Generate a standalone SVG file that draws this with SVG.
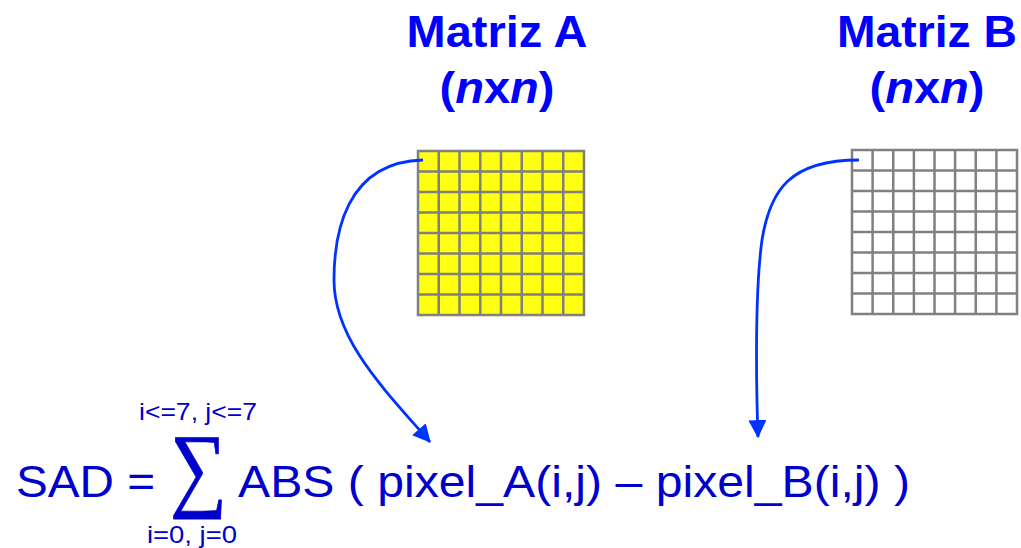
<svg xmlns="http://www.w3.org/2000/svg" width="1021" height="548" viewBox="0 0 1021 548">
<style>
.title{font-family:"Liberation Sans",Arial,sans-serif;font-weight:bold;font-size:44px;fill:#0000ff;text-anchor:middle}
.f{font-family:"Liberation Sans",Arial,sans-serif;font-size:44px;fill:#0000cc}
.lim{font-family:"Liberation Sans",Arial,sans-serif;font-size:24px;fill:#0000cc}
.sig{font-family:"Liberation Serif","Times New Roman",serif;fill:#0000cc}
.grid{stroke:#808080;stroke-width:2.5;fill:none}
.conn{stroke:#0033ff;stroke-width:2.8;fill:none}
</style>
<defs>
<marker id="ah" markerUnits="userSpaceOnUse" markerWidth="18" markerHeight="18" viewBox="0 0 16 16" refX="15" refY="8" orient="auto">
<path d="M0,0 L16,8 L0,16 Z" fill="#0033ff"/>
</marker>
</defs>
<g id="matrizA">
<text class="title" x="497" y="47" textLength="181" lengthAdjust="spacingAndGlyphs">Matriz A</text>
<text class="title" x="497" y="103" textLength="115" lengthAdjust="spacingAndGlyphs">(<tspan font-style="italic">n</tspan>x<tspan font-style="italic">n</tspan>)</text>
<rect x="418" y="151" width="166" height="164" fill="#ffff11"/>
<path class="grid" d="M418,151H584V315H418Z M438.75,151V315 M459.5,151V315 M480.25,151V315 M501,151V315 M521.75,151V315 M542.5,151V315 M563.25,151V315 M418,171.5H584 M418,192H584 M418,212.5H584 M418,233H584 M418,253.5H584 M418,274H584 M418,294.5H584"/>
</g>
<g id="matrizB">
<text class="title" x="927" y="47" textLength="180" lengthAdjust="spacingAndGlyphs">Matriz B</text>
<text class="title" x="927" y="103" textLength="115" lengthAdjust="spacingAndGlyphs">(<tspan font-style="italic">n</tspan>x<tspan font-style="italic">n</tspan>)</text>
<rect x="852" y="150" width="165" height="164" fill="#ffffff"/>
<path class="grid" d="M852,150H1017V314H852Z M872.6,150V314 M893.25,150V314 M913.9,150V314 M934.5,150V314 M955.1,150V314 M975.75,150V314 M996.4,150V314 M852,170.5H1017 M852,191H1017 M852,211.5H1017 M852,232H1017 M852,252.5H1017 M852,273H1017 M852,293.5H1017"/>
</g>
<g id="formula">
<text class="f" x="16" y="497" textLength="139" lengthAdjust="spacingAndGlyphs">SAD =</text>
<text class="sig" transform="translate(170,499) scale(0.85,1)" x="0" y="0" font-size="94" stroke="#0000cc" stroke-width="0.8">∑</text>
<text class="lim" x="139" y="420" textLength="118" lengthAdjust="spacingAndGlyphs">i&lt;=7, j&lt;=7</text>
<text class="lim" x="147" y="543" textLength="90" lengthAdjust="spacingAndGlyphs">i=0, j=0</text>
<text class="f" x="238" y="497" textLength="672" lengthAdjust="spacingAndGlyphs">ABS ( pixel_A(i,j) – pixel_B(i,j) )</text>
</g>
<g id="connectors">
<path class="conn" marker-end="url(#ah)" d="M423,160 C345,162 334,235 334,280 C334,340 385,390 430,442"/>
<path class="conn" marker-end="url(#ah)" d="M859,160 C790,160 770,190 762,240 C755,290 756,380 758,437"/>
</g>
</svg>
